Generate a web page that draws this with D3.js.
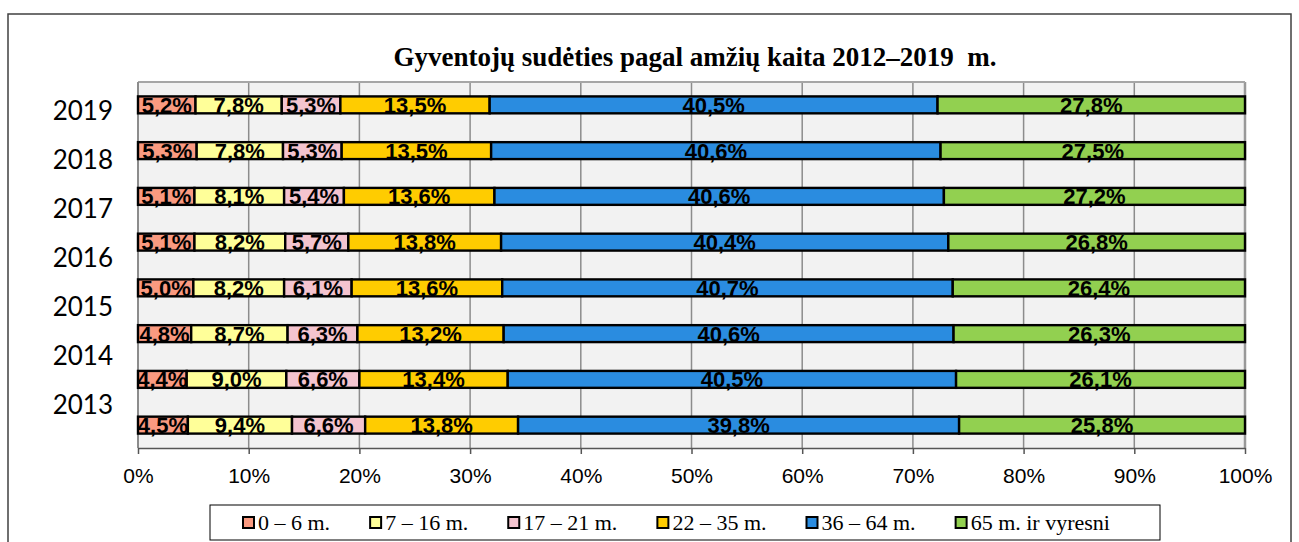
<!DOCTYPE html>
<html>
<head>
<meta charset="utf-8">
<script src="https://cdn.jsdelivr.net/npm/d3@7"></script>
<style>
  body { margin: 0; background: #fff; }
</style>
</head>
<body>
<svg id="chart" width="1299" height="542"></svg>
<script>
//////////////////////////////////////////////////////////////////////////////
// Data

var years      = ["2019", "2018", "2017", "2016", "2015", "2014", "2013", "2012"];
var yearLabels = ["2019", "2018", "2017", "2016", "2015", "2014", "2013"];
var groups     = ["0 – 6 m.", "7 – 16 m.", "17 – 21 m.", "22 – 35 m.", "36 – 64 m.", "65 m. ir vyresni"];
var colors     = ["#fa9a80", "#ffff99", "#f4c4cf", "#ffcc00", "#2a8ce0", "#92d050"];

var age0_6   = [5.2, 5.3, 5.1, 5.1, 5.0, 4.8, 4.4, 4.5];
var age7_16  = [7.8, 7.8, 8.1, 8.2, 8.2, 8.7, 9.0, 9.4];
var age17_21 = [5.3, 5.3, 5.4, 5.7, 6.1, 6.3, 6.6, 6.6];
var age22_35 = [13.5, 13.5, 13.6, 13.8, 13.6, 13.2, 13.4, 13.8];
var age36_64 = [40.5, 40.6, 40.6, 40.4, 40.7, 40.6, 40.5, 39.8];
var age65    = [27.8, 27.5, 27.2, 26.8, 26.4, 26.3, 26.1, 25.8];

var tickValues = [0, 0.1, 0.2, 0.3, 0.4, 0.5, 0.6, 0.7, 0.8, 0.9, 1];

var series = [age0_6, age7_16, age17_21, age22_35, age36_64, age65];

var rows = years.map(function(y, i) {
    return { year: y, vals: series.map(function(s) { return s[i]; }) };
});

//////////////////////////////////////////////////////////////////////////////
// Scales

var plotLeft = 138, plotRight = 1245, plotTop = 82, plotBottom = 448;

var xScale = d3.scaleLinear().domain([0, 1]).range([plotLeft, plotRight]);
var yScale = d3.scaleBand().domain(years).range([plotTop, plotBottom])
    .paddingInner(0.63).paddingOuter(0.315);
// the year captions in the source sit on their own spacing
var yLabelScale = d3.scalePoint().domain(yearLabels).range([110, 404]);

var stack = d3.stack()
    .keys(d3.range(groups.length))
    .value(function(d, k) { return d.vals[k]; })
    .offset(d3.stackOffsetExpand);

var stacked = stack(rows);

var fmt = function(v) { return d3.format(".1f")(v).replace(".", ",") + "%"; };

var svg = d3.select("#chart");

// outer frame
svg.append("rect")
    .attr("x", 8).attr("y", 14)
    .attr("width", 1283).attr("height", 560)
    .attr("fill", "#fff")
    .attr("stroke", "#404040")
    .attr("stroke-width", 1.5);

// title
svg.append("text")
    .attr("x", 695).attr("y", 66)
    .attr("text-anchor", "middle")
    .style("white-space", "pre")
    .attr("font-family", "'Liberation Serif', 'Times New Roman', serif")
    .attr("font-weight", "bold")
    .attr("font-size", 27)
    .text("Gyventojų sudėties pagal amžių kaita 2012–2019  m.");

// plot background
svg.append("rect")
    .attr("x", plotLeft).attr("y", plotTop)
    .attr("width", plotRight - plotLeft).attr("height", plotBottom - plotTop)
    .attr("fill", "#f2f2f2");

// gridlines
svg.append("g")
    .selectAll("line")
    .data(tickValues.slice(1))
    .enter()
    .append("line")
    .attr("x1", function(d) { return xScale(d); })
    .attr("x2", function(d) { return xScale(d); })
    .attr("y1", plotTop)
    .attr("y2", plotBottom)
    .attr("stroke", function(d) { return d === 1 ? "#999" : "#8c8c8c"; })
    .attr("stroke-width", function(d) { return d === 1 ? 2.5 : 1.5; });

svg.append("line")
    .attr("x1", plotLeft).attr("x2", plotRight)
    .attr("y1", plotTop).attr("y2", plotTop)
    .attr("stroke", "#a6a6a6").attr("stroke-width", 2);

svg.append("line")
    .attr("x1", plotLeft).attr("x2", plotLeft)
    .attr("y1", plotTop).attr("y2", plotBottom)
    .attr("stroke", "#8c8c8c").attr("stroke-width", 2);

// x axis
var axis = svg.append("g")
    .attr("transform", "translate(0," + plotBottom + ")")
    .call(d3.axisBottom(xScale)
        .tickValues(tickValues)
        .tickFormat(d3.format(".0%"))
        .tickSize(6)
        .tickSizeOuter(0)
        .tickPadding(14));

axis.select(".domain").attr("stroke", "#555").attr("stroke-width", 1.5);
axis.selectAll(".tick line").attr("stroke", "#555").attr("stroke-width", 1.5);
axis.selectAll(".tick text")
    .attr("font-family", "'Liberation Sans', Arial, sans-serif")
    .attr("font-size", 21)
    .attr("fill", "#000");

// bars
var layers = svg.append("g")
    .selectAll("g")
    .data(stacked)
    .enter()
    .append("g")
    .attr("fill", function(d, i) { return colors[i]; });

layers.selectAll("rect")
    .data(function(d) { return d; })
    .enter()
    .append("rect")
    .attr("x", function(d) { return xScale(d[0]); })
    .attr("y", function(d) { return yScale(d.data.year); })
    .attr("width", function(d) { return xScale(d[1]) - xScale(d[0]); })
    .attr("height", yScale.bandwidth())
    .attr("stroke", "#000")
    .attr("stroke-width", 2.4);

// value labels
var labelData = [];
stacked.forEach(function(layer, k) {
    layer.forEach(function(d) {
        labelData.push({ x0: d[0], x1: d[1], year: d.data.year, v: d.data.vals[k] });
    });
});

svg.append("g")
    .selectAll("text")
    .data(labelData)
    .enter()
    .append("text")
    .attr("x", function(d) { return (xScale(d.x0) + xScale(d.x1)) / 2; })
    .attr("y", function(d) { return yScale(d.year) + yScale.bandwidth() / 2 + 8; })
    .attr("text-anchor", "middle")
    .attr("font-family", "'Liberation Sans', Arial, sans-serif")
    .attr("font-weight", "bold")
    .attr("font-size", 22)
    .attr("fill", "#000")
    .text(function(d) { return fmt(d.v); });

// year captions
svg.append("g")
    .selectAll("text")
    .data(yearLabels)
    .enter()
    .append("text")
    .attr("x", 113)
    .attr("y", function(d) { return yLabelScale(d) + 9.5; })
    .attr("text-anchor", "end")
    .attr("font-family", "Lato, 'Liberation Sans', sans-serif")
    .attr("font-size", 26)
    .attr("fill", "#000")
    .text(function(d) { return d; });

// legend
var legendBox = { x: 210, y: 505, w: 950, h: 35 };

svg.append("rect")
    .attr("x", legendBox.x).attr("y", legendBox.y)
    .attr("width", legendBox.w).attr("height", legendBox.h)
    .attr("fill", "#fff")
    .attr("stroke", "#000")
    .attr("stroke-width", 1);

var legendItems = svg.append("g")
    .selectAll("g")
    .data(groups)
    .enter()
    .append("g");

legendItems.append("rect")
    .attr("y", 517)
    .attr("width", 11)
    .attr("height", 11)
    .attr("fill", function(d, i) { return colors[i]; })
    .attr("stroke", "#000")
    .attr("stroke-width", 2);

legendItems.append("text")
    .attr("y", 530)
    .attr("font-family", "'Liberation Serif', 'Times New Roman', serif")
    .attr("font-size", 22)
    .attr("fill", "#000")
    .text(function(d) { return d; });

var cursor = legendBox.x + 33;
legendItems.each(function() {
    var item = d3.select(this);
    item.select("rect").attr("x", cursor);
    item.select("text").attr("x", cursor + 15);
    cursor += 15 + item.select("text").node().getComputedTextLength() + 40;
});
</script>
</body>
</html>
